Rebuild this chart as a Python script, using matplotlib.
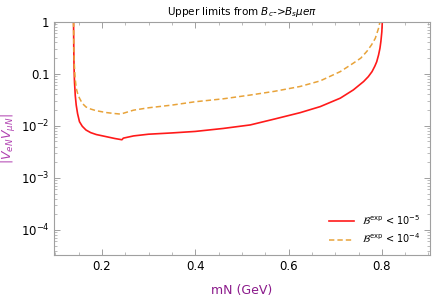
import matplotlib
matplotlib.use("Agg")
import matplotlib.pyplot as plt
from matplotlib.ticker import FixedLocator, FixedFormatter, MultipleLocator, LogLocator, NullFormatter

# red curve, B^exp < 1e-5
m_red = [0.1393, 0.1395, 0.1398, 0.1403, 0.1413, 0.143, 0.145, 0.148, 0.152, 0.158,
         0.166, 0.176, 0.188, 0.209, 0.228, 0.243, 0.246, 0.268, 0.30, 0.35,
         0.40, 0.46, 0.518, 0.57, 0.625, 0.668, 0.711, 0.739, 0.761, 0.771,
         0.779, 0.785, 0.789, 0.793, 0.796, 0.798, 0.800, 0.801]
v_red = [1.0, 0.6, 0.3, 0.14, 0.07, 0.038, 0.025, 0.017, 0.012, 0.0098,
         0.0083, 0.0074, 0.0068, 0.0062, 0.0057, 0.0054, 0.0058, 0.0064, 0.0069, 0.0073,
         0.0078, 0.0089, 0.0104, 0.0135, 0.0179, 0.0234, 0.034, 0.049, 0.071, 0.088,
         0.11, 0.14, 0.17, 0.23, 0.31, 0.42, 0.64, 1.0]

# orange dashed curve, B^exp < 1e-4
m_or = [0.1393, 0.1397, 0.1402, 0.141, 0.1425, 0.145, 0.148, 0.152, 0.158, 0.166,
        0.176, 0.188, 0.209, 0.225, 0.240, 0.244, 0.268, 0.30, 0.35, 0.40,
        0.46, 0.518, 0.57, 0.625, 0.668, 0.711, 0.739, 0.755, 0.768, 0.778,
        0.786, 0.793, 0.796]
v_or = [1.0, 0.5, 0.25, 0.15, 0.085, 0.053, 0.042, 0.034, 0.027, 0.023,
        0.021, 0.0195, 0.018, 0.0173, 0.0168, 0.0172, 0.020, 0.0222, 0.025, 0.029,
        0.033, 0.039, 0.046, 0.057, 0.073, 0.11, 0.16, 0.20, 0.27, 0.36,
        0.48, 0.75, 1.0]

yticks = [1, 0.1, 1e-2, 1e-3, 1e-4]
ylabels = ["1", "0.1", r"$10^{-2}$", r"$10^{-3}$", r"$10^{-4}$"]
xticks = [0.2, 0.4, 0.6, 0.8]
xlabels = ["0.2", "0.4", "0.6", "0.8"]

fig = plt.figure(figsize=(4.36, 2.96), dpi=100)
ax = fig.add_axes([0.1245, 0.1385, 0.8615, 0.7882])

ax.plot(m_red, v_red, color="#ff1a1a", lw=1.2, label=r"$\mathcal{B}^{\rm exp}$ < $10^{-5}$")
ax.plot(m_or, v_or, color="#e8a33a", lw=1.1, ls=(0, (3.5, 2)), label=r"$\mathcal{B}^{\rm exp}$ < $10^{-4}$")

ax.set_yscale("log")
ax.set_xlim(0.098, 0.903)
ax.set_ylim(3.3e-5, 1)

ax.yaxis.set_major_locator(FixedLocator(yticks))
ax.yaxis.set_major_formatter(FixedFormatter(ylabels))
ax.yaxis.set_minor_locator(LogLocator(base=10, subs=range(2, 10)))
ax.yaxis.set_minor_formatter(NullFormatter())
ax.xaxis.set_major_locator(FixedLocator(xticks))
ax.xaxis.set_major_formatter(FixedFormatter(xlabels))
ax.xaxis.set_minor_locator(MultipleLocator(0.05))

for s in ax.spines.values():
    s.set_color("#a0a0a0")
    s.set_linewidth(0.8)

ax.tick_params(which="both", direction="in", colors="#a0a0a0", labelcolor="black",
               labelsize=8.5, top=True, right=True)
ax.tick_params(which="major", length=4, width=0.7)
ax.tick_params(which="minor", length=2, width=0.5)
# top ticks greenish, right ticks bluish, as in the reference
for tick in ax.xaxis.get_major_ticks() + ax.xaxis.get_minor_ticks():
    tick.tick2line.set_color("#b8e6b0")
for tick in ax.yaxis.get_major_ticks() + ax.yaxis.get_minor_ticks():
    tick.tick2line.set_color("#b8c4ee")

ax.set_xlabel("mN (GeV)", color="#8b1a8b", fontsize=9, labelpad=8)
ax.set_ylabel(r"$|V_{eN}V_{\mu N}|$", color="#b040b0", fontsize=9, labelpad=2)
ax.set_title(r"Upper limits from $B_c$->$B_s\mu e\pi$", fontsize=7.5, pad=5)

ax.legend(loc="lower right", frameon=False, fontsize=7, handlelength=2.5,
          borderaxespad=0.6, labelspacing=0.5)

fig.savefig("out.png", dpi=100)
